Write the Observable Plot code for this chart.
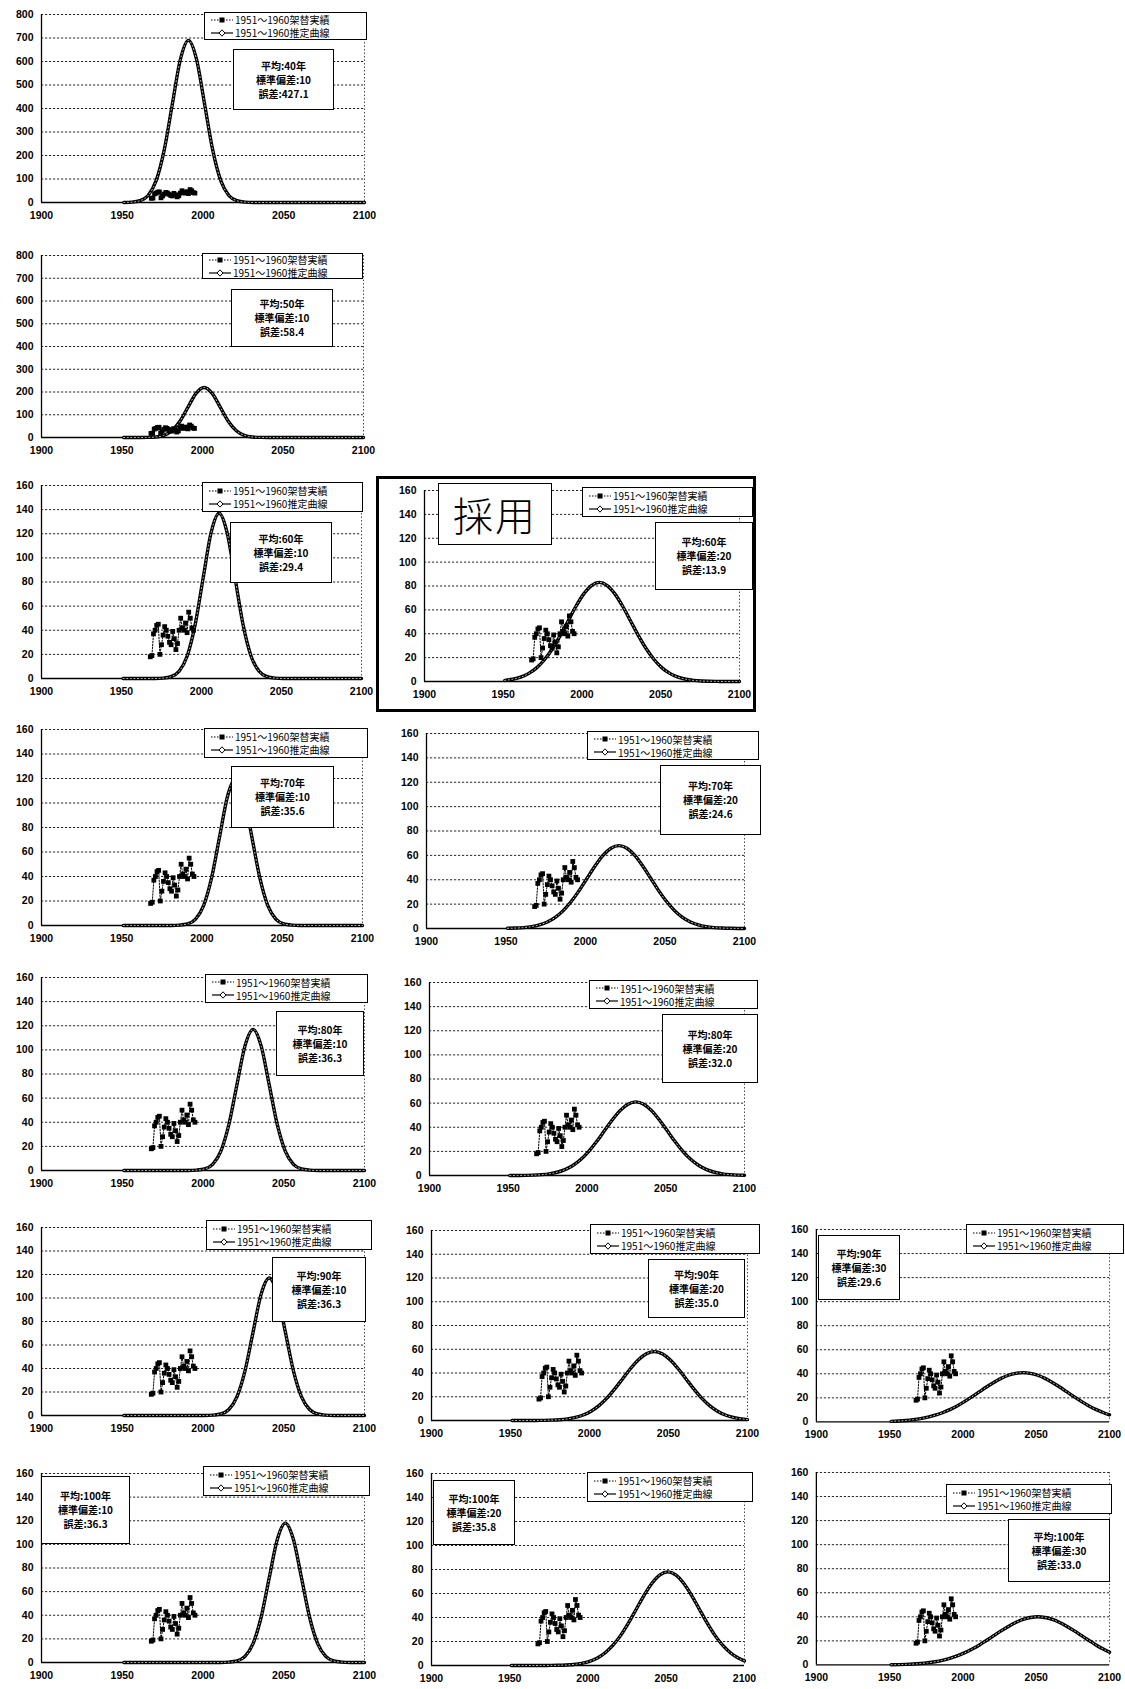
<!DOCTYPE html>
<html><head><meta charset="utf-8">
<script src="https://cdn.jsdelivr.net/npm/d3@7"></script>
<script src="https://cdn.jsdelivr.net/npm/@observablehq/plot@0.6"></script>
<style>
body{margin:0;background:#fff;}
#page{position:relative;width:1125px;height:1689px;overflow:hidden;background:#fff;}
.panel{position:absolute;}
.lg{position:absolute;background:#fff;border:1px solid #000;box-sizing:border-box;font-family:"Noto Sans CJK JP","Liberation Sans",sans-serif;font-size:10px;color:#000;display:flex;flex-direction:column;justify-content:center;padding-left:5px;}
.lg .row{display:flex;align-items:center;height:13px;white-space:nowrap;}
.lg svg{margin-right:1px;}
.st{position:absolute;background:#fff;border:1.5px solid #000;box-sizing:border-box;font-family:"Noto Sans CJK JP","Liberation Sans",sans-serif;font-size:10px;font-weight:bold;color:#000;display:flex;flex-direction:column;justify-content:center;align-items:center;line-height:14px;white-space:nowrap;}
.adopt{position:absolute;border:3px solid #000;box-sizing:border-box;pointer-events:none;}
.adoptLabel{position:absolute;background:#fff;border:1.5px solid #000;box-sizing:border-box;font-family:"Noto Sans CJK JP",sans-serif;font-size:40px;font-weight:300;display:flex;align-items:center;justify-content:center;letter-spacing:2px;}
</style></head>
<body><div id="page"></div>
<script>
// ---------- data ----------
const seriesNames = ["1951～1960架替実績", "1951～1960推定曲線"];
const xTicks = [1900, 1950, 2000, 2050, 2100];

const actualYears  = [1968,1969,1970,1971,1972,1973,1974,1975,1976,1977,1978,1979,1980,1981,1982,1983,1984,1985,1986,1987,1988,1989,1990,1991,1992,1993,1994,1995];
const actualValues = [18,19,37,40,44,45,20,28,36,43,40,35,30,28,39,33,24,29,40,50,42,40,46,38,55,50,42,40];

const curveYears = [1951,1956,1961,1966,1971,1976,1981,1986,1991,1996,2001,2006,2011,2016,2021,2026,2031,2036,2041,2046,2051,2056,2061,2066,2071,2076,2081,2086,2091,2096,2100];

const curve40s10  = [0,1.5,7.7,30,93,224,418,609,690,609,418,224,93,30,7.7,1.5,0,0,0,0,0,0,0,0,0,0,0,0,0,0,0];
const curve50s10  = [0,0,0.1,0.5,2.4,9.7,29.8,71.4,133.4,194.2,220,194.2,133.4,71.4,29.8,9.7,2.4,0.5,0.1,0,0,0,0,0,0,0,0,0,0,0,0];
const curve60s10  = [0,0,0,0,0,0.3,1.5,6,18.5,44.5,83.1,120.9,137,120.9,83.1,44.5,18.5,6,1.5,0.3,0,0,0,0,0,0,0,0,0,0,0];
const curve60s20  = [0.9,1.9,3.6,6.6,11.2,18,27,38,50.3,62.6,73.2,80.4,83,80.4,73.2,62.6,50.3,38,27,18,11.2,6.6,3.6,1.9,0.9,0.4,0.2,0.1,0,0,0];
const curve70s10  = [0,0,0,0,0,0,0,0.3,1.3,5.3,16.2,39,72.8,105.9,120,105.9,72.8,39,16.2,5.3,1.3,0.3,0,0,0,0,0,0,0,0,0];
const curve70s20  = [0.15,0.35,0.75,1.55,3,5.4,9.2,14.7,22.1,31.1,41.2,51.3,60,65.9,68,65.9,60,51.3,41.2,31.1,22.1,14.7,9.2,5.4,3,1.55,0.75,0.35,0.15,0.06,0.04];
const curve80s10  = [0,0,0,0,0,0,0,0,0,0.3,1.3,5.1,15.8,38,71,103.3,117,103.3,71,38,15.8,5.1,1.3,0.3,0,0,0,0,0,0,0];
const curve80s20  = [0,0.05,0.13,0.31,0.68,1.39,2.68,4.86,8.25,13.2,19.8,27.9,37,46,53.8,59.1,61,59.1,53.8,46,37,27.9,19.8,13.2,8.25,4.86,2.68,1.39,0.68,0.31,0.15];
const curve90s10  = [0,0,0,0,0,0,0,0,0,0,0,0.3,1.3,5.1,15.8,38,71,103.3,117,103.3,71,38,15.8,5.1,1.3,0.3,0,0,0,0,0];
const curve90s20  = [0,0,0,0.05,0.13,0.3,0.64,1.32,2.55,4.6,7.85,12.5,18.8,26.6,35.2,43.8,51.2,56.2,58,56.2,51.2,43.8,35.2,26.6,18.8,12.5,7.85,4.6,2.55,1.32,0.74];
const curve90s30  = [0.46,0.74,1.17,1.8,2.69,3.92,5.55,7.64,10.2,13.3,16.9,20.8,24.9,29,32.8,36.2,38.8,40.4,41,40.4,38.8,36.2,32.8,29,24.9,20.8,16.9,13.3,10.2,7.64,5.9];
const curve100s10 = [0,0,0,0,0,0,0,0,0,0,0,0,0,0.3,1.3,5.2,16,38.3,71.6,104.1,118,104.1,71.6,38.3,16,5.2,1.3,0.3,0,0,0];
const curve100s20 = [0,0,0,0,0.03,0.07,0.17,0.4,0.87,1.78,3.42,6.2,10.6,16.9,25.3,35.7,47.3,58.9,68.8,75.6,78,75.6,68.8,58.9,47.3,35.7,25.3,16.9,10.6,6.2,3.9];
const curve100s30 = [0.15,0.27,0.44,0.72,1.14,1.76,2.63,3.82,5.41,7.46,9.98,13,16.4,20.3,24.3,28.3,32,35.3,37.8,39.4,40,39.4,37.8,35.3,32,28.3,24.3,20.3,16.4,13,10.5];

const panelMeans  = [40,50,60,60,70,70,80,80,90,90,90,100,100,100];
const panelSDs    = [10,10,10,20,10,20,10,20,10,20,30,10,20,30];
const panelErrors = ["427.1","58.4","29.4","13.9","35.6","24.6","36.3","32.0","36.3","35.0","29.6","36.3","35.8","33.0"];
const panelYMax   = [800,800,160,160,160,160,160,160,160,160,160,160,160,160];
const panelCurves = [curve40s10,curve50s10,curve60s10,curve60s20,curve70s10,curve70s20,curve80s10,curve80s20,curve90s10,curve90s20,curve90s30,curve100s10,curve100s20,curve100s30];
const adoptedIndex = 3;
const adoptedLabel = "採用";

// ---------- layout (frame L,R,T,B ; legend box ; stats box) ----------
const layout = [
 {f:[41,364,14,202],    lg:[204,12,367,40],     st:[233,49,334,110]},
 {f:[41,363,255,437],   lg:[202,253,363,279],   st:[231,289,333,347]},
 {f:[41,361,485,678],   lg:[202,482,363,512],   st:[230,522,332,583]},
 {f:[424,739,490,681],  lg:[582,487,753,517],   st:[655,522,753,590]},
 {f:[41,362,729,925],   lg:[204,728,368,758],   st:[231,766,334,828]},
 {f:[426,744,733,928],  lg:[587,731,759,760],   st:[660,765,761,835]},
 {f:[41,364,977,1170],  lg:[205,974,368,1003],  st:[276,1011,364,1076]},
 {f:[429,744,982,1175], lg:[589,980,758,1009],  st:[662,1014,758,1083]},
 {f:[41,364,1227,1415], lg:[206,1220,372,1250], st:[272,1257,366,1322]},
 {f:[431,747,1230,1420],lg:[590,1224,760,1254], st:[648,1259,745,1318]},
 {f:[816,1110,1229,1422],lg:[966,1224,1124,1254],st:[818,1235,900,1300]},
 {f:[41,364,1473,1662], lg:[203,1466,370,1496], st:[41,1476,130,1544]},
 {f:[431,744,1473,1665],lg:[587,1472,753,1502], st:[433,1480,515,1545]},
 {f:[816,1110,1472,1665],lg:[946,1484,1112,1514],st:[1008,1519,1110,1582]}
];

const page = document.getElementById("page");
const mL = 44, mR = 16, mT = 8, mB = 26;
const actual = actualYears.map((x, i) => ({x, y: actualValues[i]}));

function place(el, x1, y1, x2, y2) {
  el.style.left = x1 + "px"; el.style.top = y1 + "px";
  el.style.width = (x2 - x1) + "px"; el.style.height = (y2 - y1) + "px";
}

panelCurves.forEach((c, i) => {
  const [L, R, T, B] = layout[i].f;
  const ymax = panelYMax[i];
  const yTicks = d3.range(0, ymax + 1, ymax / 8);
  const curve = curveYears.map((x, j) => ({x, y: c[j]}));
  const svg = Plot.plot({
    width: R - L + mL + mR, height: B - T + mT + mB,
    marginLeft: mL, marginRight: mR, marginTop: mT, marginBottom: mB,
    x: {domain: [1900, 2100], label: null},
    y: {domain: [0, ymax], label: null},
    style: {fontFamily: "'Liberation Sans', Arial, sans-serif", fontSize: "10.5px", fontWeight: "bold", color: "#000", background: "transparent", overflow: "visible"},
    marks: [
      Plot.ruleY(yTicks.filter(d => d > 0), {stroke: "#000", strokeWidth: 1, strokeDasharray: "2.2,1.8", strokeOpacity: 0.85}),
      Plot.ruleX([2100], {stroke: "#000", strokeWidth: 1, strokeDasharray: "1.5,2", strokeOpacity: 0.7}),
      Plot.axisX({ticks: xTicks, tickFormat: "d", tickSize: 0, tickPadding: 9, fontWeight: "bold"}),
      Plot.axisY({ticks: yTicks, tickFormat: "d", tickSize: 0, tickPadding: 8, fontWeight: "bold"}),
      Plot.ruleY([0], {stroke: "#000", strokeWidth: 1.3}),
      Plot.ruleX([1900], {stroke: "#000", strokeWidth: 1.3}),
      Plot.line(curve, {x: "x", y: "y", curve: "monotone-x", stroke: "#000", strokeWidth: 3.4}),
      Plot.line(curve, {x: "x", y: "y", curve: "monotone-x", stroke: "#fff", strokeWidth: 0.8, strokeDasharray: "1,2.6"}),
      Plot.line(actual, {x: "x", y: "y", stroke: "#000", strokeWidth: 1, strokeDasharray: "1.5,1.5"}),
      Plot.dot(actual, {x: "x", y: "y", symbol: "square", fill: "#000", r: 2.7})
    ]
  });
  const d = document.createElement("div");
  d.className = "panel";
  d.style.left = (L - mL) + "px"; d.style.top = (T - mT) + "px";
  d.appendChild(svg);
  page.appendChild(d);
});

const sw1 = '<svg width="24" height="8"><line x1="1" x2="23" y1="4" y2="4" stroke="#000" stroke-width="1" stroke-dasharray="1.5,1.5"/><rect x="9.5" y="1.5" width="5" height="5" fill="#000"/></svg>';
const sw2 = '<svg width="24" height="8"><line x1="1" x2="23" y1="4" y2="4" stroke="#000" stroke-width="1.2"/><path d="M12,0.8 L15,4 L12,7.2 L9,4 Z" fill="#fff" stroke="#000" stroke-width="1"/></svg>';

if (adoptedIndex >= 0) {
  const fr = document.createElement("div");
  fr.className = "adopt";
  place(fr, 376, 476, 756, 712);
  page.appendChild(fr);
}

layout.forEach((p, i) => {
  const lg = document.createElement("div");
  lg.className = "lg";
  place(lg, ...p.lg);
  lg.innerHTML = `<div class="row">${sw1}<span>${seriesNames[0]}</span></div><div class="row">${sw2}<span>${seriesNames[1]}</span></div>`;
  page.appendChild(lg);

  const st = document.createElement("div");
  st.className = "st";
  place(st, ...p.st);
  st.innerHTML = `<div>平均:${panelMeans[i]}年</div><div>標準偏差:${panelSDs[i]}</div><div>誤差:${panelErrors[i]}</div>`;
  page.appendChild(st);
});

const al = document.createElement("div");
al.className = "adoptLabel";
place(al, 438, 483, 552, 545);
al.textContent = adoptedLabel;
page.appendChild(al);
</script>
</body></html>
